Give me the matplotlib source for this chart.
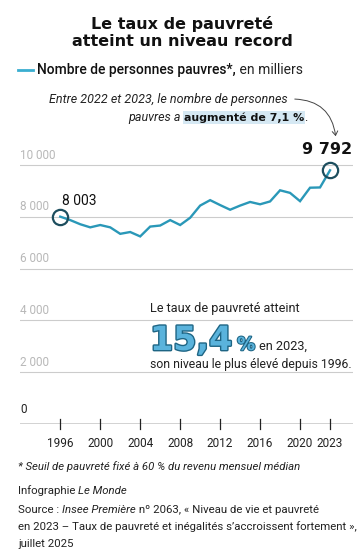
import matplotlib
matplotlib.use("Agg")
import matplotlib.pyplot as plt
import matplotlib.patheffects as pe
import numpy as np

W, H = 364, 549

years = list(range(1996, 2024))
pauvres = [8003, 7870, 7710, 7590, 7680, 7590, 7340, 7410, 7240, 7620,
           7660, 7870, 7680, 7960, 8430, 8640, 8450, 8270, 8430, 8570,
           8480, 8590, 9020, 8920, 8600, 9120, 9130, 9792]
y_ticks = [0, 2000, 4000, 6000, 8000, 10000]
y_labels = ["0", "2 000", "4 000", "6 000", "8 000", "10 000"]
x_ticks = [1996, 2000, 2004, 2008, 2012, 2016, 2020, 2023]

LINE = "#2a98b8"
DARK = "#1d4e5e"
GRID = "#cccccc"

plt.rcParams["font.family"] = ["Roboto", "DejaVu Sans"]

fig = plt.figure(figsize=(W / 100, H / 100), dpi=100)
fig.patch.set_facecolor("white")


def px(x, y):
    return x / W, 1 - y / H


def row(x, y, parts):
    # write text fragments one after another on a baseline (pixels)
    r = fig.canvas.get_renderer()
    for s, kw in parts:
        t = fig.text(*px(x, y), s, ha="left", va="baseline", **kw)
        x += t.get_window_extent(renderer=r).width
    return x


# title
fig.text(*px(W / 2, 24), "Le taux de pauvreté", ha="center", va="center",
         fontsize=11.5, family="DejaVu Sans", fontweight="heavy", color="#111111")
fig.text(*px(W / 2, 42), "atteint un niveau record", ha="center", va="center",
         fontsize=11.5, family="DejaVu Sans", fontweight="heavy", color="#111111")

# legend
fig.add_artist(plt.Line2D([18 / W, 33 / W], [1 - 70 / H, 1 - 70 / H],
                          color="#3aaed0", lw=2))
row(37, 74, [("Nombre de personnes pauvres*,", dict(fontsize=10, fontweight="medium", color="#111111")),
             (" en milliers", dict(fontsize=10, color="#222222"))])

# annotation
fig.text(*px(288, 103), "Entre 2022 et 2023, le nombre de personnes",
         ha="right", va="baseline", fontsize=9.0, style="italic", color="#222222")
row(128, 121, [("pauvres a ", dict(fontsize=9.0, style="italic", color="#222222")),
               ("augmenté de 7,1 %", dict(fontsize=7.9, family="DejaVu Sans", fontweight="heavy",
                                          color="#111111",
                                          bbox=dict(facecolor="#d5e8f3", edgecolor="none", pad=0.8))),
               (".", dict(fontsize=9.0, color="#222222"))])

# chart
ax = fig.add_axes([20 / W, 1 - 424 / H, 333 / W, 285 / H])
ax.set_xlim(1991.97, 2025.3)
ax.set_ylim(0, 11000)
for s in ax.spines.values():
    s.set_visible(False)
ax.set_yticks([])
ax.set_xticks([])

for v, lab in zip(y_ticks, y_labels):
    if v == 0:
        ax.axhline(0, color="#222222", lw=1, zorder=2)
        ax.text(1992, 300, lab, fontsize=8.5, color="#222222", va="bottom", ha="left")
    else:
        ax.axhline(v, color=GRID, lw=0.8, zorder=1)
        ax.text(1992, v + 130, lab, fontsize=8.5, color="#b8b8b8", va="bottom", ha="left")

for yr in x_ticks:
    ax.plot([yr, yr], [-200, 200], color="#222222", lw=0.9, clip_on=False, zorder=2)
    ax.text(yr, -750, str(yr), ha="center", va="center", fontsize=8.5, color="#222222")

ax.plot(years, pauvres, color=LINE, lw=1.7, zorder=3, solid_joinstyle="miter")
ax.plot([years[0], years[-1]], [pauvres[0], pauvres[-1]], "o", ms=11,
        mfc="none", mec=DARK, mew=1.6, zorder=4)
ax.text(years[0] + 0.2, pauvres[0] + 350, "8 003", fontsize=10, color="#111111",
        ha="left", va="bottom")
ax.text(years[-1] - 0.3, pauvres[-1] + 500, "9 792", fontsize=11.5, family="DejaVu Sans",
        fontweight="heavy", color="#111111", ha="center", va="bottom")

# curved arrow from annotation to the 2023 point
fig.add_artist(matplotlib.patches.FancyArrowPatch(
    px(292, 99), px(336, 139), transform=fig.transFigure,
    connectionstyle="arc3,rad=-0.45", arrowstyle="->,head_length=3,head_width=2",
    color="#444444", lw=0.7))

# 15,4 % block
big = dict(family="DejaVu Sans", fontweight="heavy", color="#5ab3dc")
row(150, 312, [("Le taux de pauvreté atteint", dict(fontsize=9.2, color="#222222"))])
x = row(150, 350, [("15,4", dict(big, fontsize=24,
                                  path_effects=[pe.withStroke(linewidth=2, foreground="#1e6584")]))])
x = row(x + 5, 350, [("%", dict(big, fontsize=13,
                                path_effects=[pe.withStroke(linewidth=1.5, foreground="#1e6584")]))])
row(x + 4, 350, [("en 2023,", dict(fontsize=9.2, color="#222222"))])
row(150, 368, [("son niveau le plus élevé depuis 1996.", dict(fontsize=8.8, color="#222222"))])

# footer
foot = dict(fontsize=8.2, color="#222222")
row(18, 470, [("* Seuil de pauvreté fixé à 60 % du revenu mensuel médian", dict(foot, style="italic"))])
row(18, 494, [("Infographie ", foot), ("Le Monde", dict(foot, style="italic"))])
row(18, 513, [("Source : ", foot), ("Insee Première", dict(foot, style="italic")),
              (" nº 2063, « Niveau de vie et pauvreté", foot)])
row(18, 530, [("en 2023 – Taux de pauvreté et inégalités s’accroissent fortement »,", foot)])
row(18, 547, [("juillet 2025", foot)])

fig.savefig("out.png", dpi=100)
